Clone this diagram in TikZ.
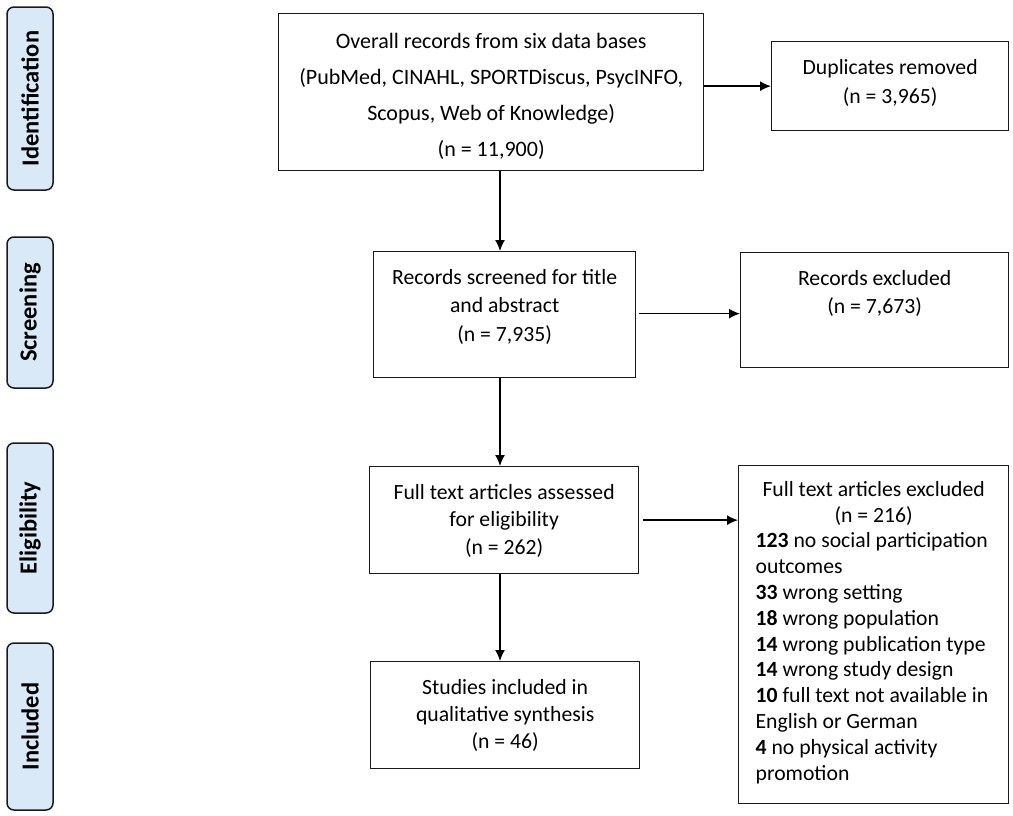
\documentclass[tikz,border=0pt]{standalone}
\usepackage{fontspec}
\setmainfont{Carlito}
\usetikzlibrary{arrows.meta}
\definecolor{phasefill}{HTML}{DAE9F8}
\definecolor{edge}{HTML}{1A1A1A}
\tikzset{
	phase/.style={draw=edge,line width=1.5pt,fill=phasefill,rounded corners=7pt,rotate=90,minimum height=46pt,inner sep=0pt,font=\fontsize{24.5}{28}\selectfont\bfseries},
	box/.style 2 args={draw=edge,line width=1.3pt,anchor=north west,minimum width=#1,minimum height=#2,inner sep=0pt},
	txt/.style={anchor=north,align=center,inner sep=0pt,yshift=-18pt,font=\fontsize{21.7}{#1}\selectfont},
	arr/.style={line width=1.4pt,-{Latex[length=11pt,width=10pt]}}
}

\begin{document}
\begin{tikzpicture}[x=1pt,y=-1pt]
	\useasboundingbox (0,0) rectangle (1013,815);

	% phases
	\node [phase,minimum width=183pt] (ident) at (30,98.5) {Identification};
	\node [phase,minimum width=151pt] (screen) at (30,312.5) {Screening};
	\node [phase,minimum width=170pt] (elig) at (30,528) {Eligibility};
	\node [phase,minimum width=167pt] (incl) at (30,726.5) {Included};

	% boxes
	\node [box={425pt}{157pt},label={[txt=36pt,yshift=-2pt,font=\fontsize{22}{36}\selectfont]north:{Overall records from six data bases\\(PubMed, CINAHL, SPORTDiscus, PsycINFO,\\Scopus, Web of Knowledge)\\(n = 11,900)}}] (records) at (278,13) {};
	\node [box={237pt}{89pt},label={[txt=29pt]north:{Duplicates removed\\(n = 3,965)}}] (dupl) at (771,41) {};
	\node [box={262pt}{126pt},label={[txt=28.5pt]north:{Records screened for title\\and abstract\\(n = 7,935)}}] (scr) at (373,251) {};
	\node [box={268pt}{115pt},label={[txt=28pt]north:{Records excluded\\(n = 7,673)}}] (scrx) at (740,252) {};
	\node [box={269pt}{107pt},label={[txt=27.5pt]north:{Full text articles assessed\\for eligibility\\(n = 262)}}] (full) at (369,466) {};
	\node [box={270pt}{338pt},label={[txt=25.8pt,align=flush left,text width=236pt,yshift=2pt]north:{\makebox[236pt]{Full text articles excluded}\\\makebox[236pt]{(n = 216)}\\\textbf{123} no social participation\\outcomes\\\textbf{33} wrong setting\\\textbf{18} wrong population\\\textbf{14} wrong publication type\\\textbf{14} wrong study design\\\textbf{10} full text not available in\\English or German\\\textbf{4} no physical activity\\promotion}}] (fullx) at (738,465) {};
	\node [box={269pt}{107pt},label={[txt=27pt]north:{Studies included in\\qualitative synthesis\\(n = 46)}}] (stud) at (370,661) {};

	% arrows
	\coordinate (spine) at (500,0);
	\draw [arr] (records.south -| spine) -- (scr.north -| spine);
	\draw [arr] (scr.south -| spine) -- (full.north -| spine);
	\draw [arr] (full.south -| spine) -- (stud.north -| spine);

	\draw [arr] (records.east |- dupl.west) -- (dupl.west);
	\draw [arr] ([xshift=3pt,yshift=-3.5pt]scr.east |- scrx.west) -- ([yshift=-3.5pt]scrx.west);
	\draw [arr] ([xshift=4pt]full.east) -- (full.east -| fullx.west);
\end{tikzpicture}
\end{document}
